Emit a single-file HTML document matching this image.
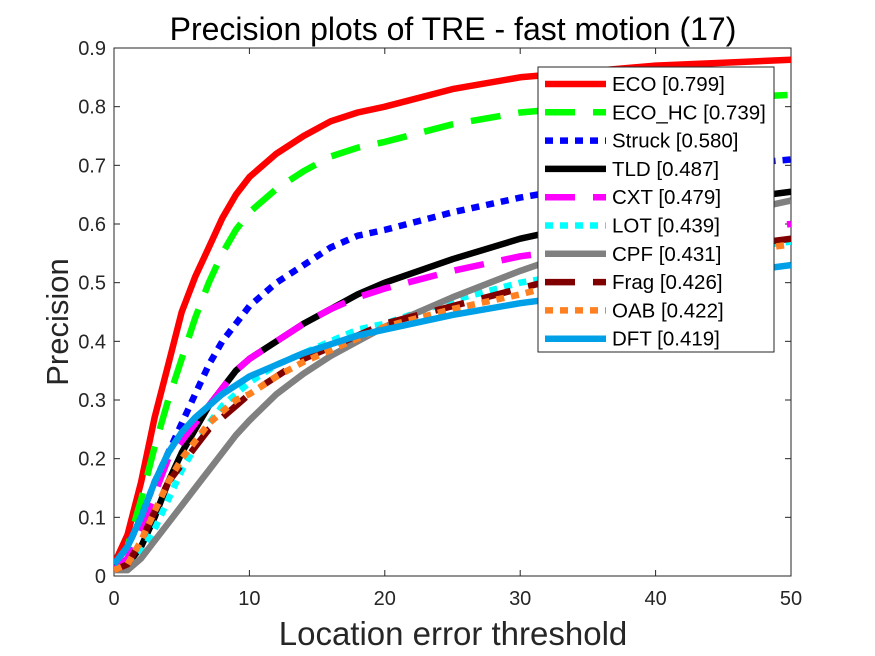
<!DOCTYPE html>
<html><head><meta charset="utf-8"><style>
body{margin:0;background:#fff;}
svg{display:block;font-family:"Liberation Sans",Arial,sans-serif;}
</style></head><body>
<svg id="chart" width="875" height="656">
<rect width="875" height="656" fill="#fff"/>
<g id="plot"></g>
</svg>
<script>
const xs=[0,1,2,3,4,5,6,7,8,9,10,12,14,16,18,20,25,30,35,40,45,50];
const names=["ECO [0.799]","ECO_HC [0.739]","Struck [0.580]","TLD [0.487]","CXT [0.479]","LOT [0.439]","CPF [0.431]","Frag [0.426]","OAB [0.422]","DFT [0.419]"];
const colors=["#ff0000","#00ff00","#0000ff","#000000","#ff00ff","#00ffff","#808080","#800000","#ff8020","#00a0e8"];
const dashes=["","30,18","8,7","","30,18","8,7","","30,18","8,7",""];
const yECO=[0.02,0.07,0.16,0.27,0.36,0.45,0.51,0.56,0.61,0.65,0.68,0.72,0.75,0.775,0.79,0.80,0.83,0.85,0.86,0.87,0.875,0.88];
const yECOHC=[0.02,0.05,0.13,0.22,0.30,0.37,0.44,0.50,0.55,0.59,0.62,0.66,0.69,0.715,0.73,0.74,0.77,0.79,0.80,0.81,0.815,0.82];
const yStruck=[0.02,0.05,0.10,0.16,0.21,0.26,0.31,0.36,0.40,0.43,0.46,0.50,0.53,0.56,0.58,0.59,0.62,0.645,0.665,0.68,0.70,0.71];
const yTLD=[0.01,0.02,0.05,0.10,0.16,0.21,0.25,0.29,0.32,0.35,0.37,0.40,0.43,0.455,0.48,0.50,0.54,0.575,0.60,0.62,0.64,0.655];
const yCXT=[0.01,0.03,0.08,0.14,0.20,0.23,0.26,0.29,0.32,0.35,0.37,0.40,0.43,0.455,0.475,0.49,0.52,0.545,0.56,0.58,0.59,0.60];
const yLOT=[0.01,0.02,0.04,0.08,0.13,0.18,0.22,0.26,0.29,0.31,0.33,0.36,0.38,0.40,0.42,0.43,0.47,0.50,0.52,0.54,0.555,0.57];
const yCPF=[0.01,0.01,0.03,0.06,0.09,0.12,0.15,0.18,0.21,0.24,0.265,0.31,0.345,0.375,0.40,0.425,0.475,0.52,0.56,0.59,0.615,0.64];
const yFrag=[0.01,0.02,0.06,0.11,0.16,0.19,0.22,0.25,0.27,0.29,0.31,0.34,0.37,0.39,0.41,0.43,0.46,0.49,0.52,0.54,0.56,0.575];
const yOAB=[0.01,0.02,0.06,0.11,0.16,0.20,0.23,0.26,0.28,0.30,0.31,0.34,0.365,0.385,0.405,0.425,0.455,0.48,0.51,0.53,0.55,0.565];
const yDFT=[0.02,0.05,0.10,0.16,0.21,0.245,0.27,0.29,0.31,0.325,0.34,0.36,0.38,0.395,0.41,0.42,0.445,0.465,0.48,0.50,0.515,0.53];
const series=[yECO,yECOHC,yStruck,yTLD,yCXT,yLOT,yCPF,yFrag,yOAB,yDFT];
const xTicks=[0,10,20,30,40,50];
const yTicks=[0,0.1,0.2,0.3,0.4,0.5,0.6,0.7,0.8,0.9];
const X0=114,X1=791,Y0=576,Y1=48;
const sx=v=>X0+(v-0)/50*(X1-X0);
const sy=v=>Y0-(v/0.9)*(Y0-Y1);
const NS="http://www.w3.org/2000/svg";
const g=document.getElementById('plot');
function mk(t,a,p){const e=document.createElementNS(NS,t);for(const k in a)e.setAttribute(k,a[k]);(p||g).appendChild(e);return e;}
const defs=mk('defs',{});const cp=mk('clipPath',{id:'clip'},defs);mk('rect',{x:X0,y:Y1,width:X1-X0,height:Y0-Y1},cp);
const box=mk('rect',{x:X0,y:Y1,width:X1-X0,height:Y0-Y1,fill:'none',stroke:'#262626','stroke-width':1});


xTicks.forEach(t=>{
 mk('line',{x1:sx(t),x2:sx(t),y1:Y0,y2:Y0-6,stroke:'#262626'});
 mk('line',{x1:sx(t),x2:sx(t),y1:Y1,y2:Y1+6,stroke:'#262626'});
 const tx=mk('text',{x:sx(t),y:Y0+29,'text-anchor':'middle','font-size':20,fill:'#262626'});tx.textContent=t;
 
 
});
yTicks.forEach(t=>{
 mk('line',{x1:X0,x2:X0+6,y1:sy(t),y2:sy(t),stroke:'#262626'});
 mk('line',{x1:X1,x2:X1-6,y1:sy(t),y2:sy(t),stroke:'#262626'});
 const tx=mk('text',{x:X0-8,y:sy(t)+7,'text-anchor':'end','font-size':20,fill:'#262626'});tx.textContent=String(+t.toFixed(1));
 
 
});
const lines=mk('g',{'clip-path':'url(#clip)'});
series.forEach((s,i)=>{
 const pts=xs.map((x,j)=>sx(x).toFixed(1)+','+sy(s[j]).toFixed(1)).join(' ');
 const a={points:pts,fill:'none',stroke:colors[i],'stroke-width':6.5,'stroke-linejoin':'round'};
 if(dashes[i])a['stroke-dasharray']=dashes[i];
 const pl=mk('polyline',a,lines);
 
 
});
const lg=mk('g',{});


mk('rect',{x:538,y:67,width:236,height:285,fill:'#fff',stroke:'#262626','stroke-width':1},lg);
names.forEach((n,i)=>{
 const y=84+i*28.3;
 const a={x1:545,x2:606,y1:y,y2:y,stroke:colors[i],'stroke-width':6.5};
 if(dashes[i])a['stroke-dasharray']=dashes[i];
 mk('line',a,lg);
 const t=mk('text',{x:612,y:y+7,'font-size':20.5,fill:'#000'},lg);t.textContent=n;
 
 
});
const ti=mk('text',{x:453,y:40,'text-anchor':'middle','font-size':32,fill:'#000'});ti.textContent='Precision plots of TRE - fast motion (17)';


const xl=mk('text',{x:453,y:645,'text-anchor':'middle','font-size':33,fill:'#262626'});xl.textContent='Location error threshold';


const yl=mk('text',{x:0,y:0,'text-anchor':'middle','font-size':31,fill:'#262626',transform:'translate(68,322) rotate(-90)'});yl.textContent='Precision';


</script>
</body></html>
